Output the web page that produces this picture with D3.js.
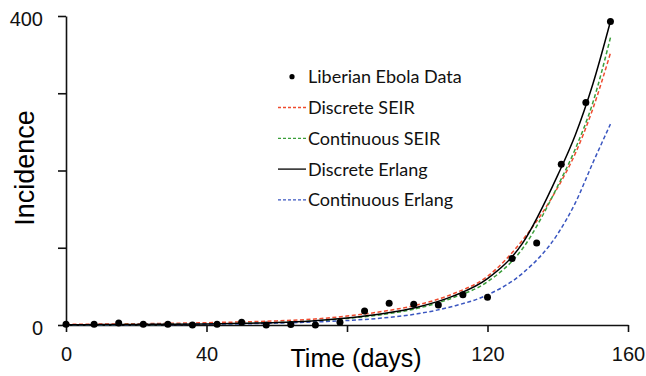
<!DOCTYPE html>
<html>
<head>
<meta charset="utf-8">
<script src="https://cdn.jsdelivr.net/npm/d3@7"></script>
<style>
  body { margin: 0; background: #fff; }
  svg { display: block; }
  .axis path, .axis line { stroke: #111; stroke-width: 1.6px; }
  .axis text { font-family: "Liberation Sans", Arial, sans-serif; font-size: 20px; fill: #111; }
</style>
</head>
<body>
<svg width="646" height="376"></svg>
<script>
// weekly liberian case counts (day, incidence)
var dataDays = [0, 8, 15, 22, 29, 36, 43, 50, 57, 64, 71, 78, 85, 92, 99, 106, 113, 120, 127, 134, 141, 148, 155];
var dataCases = [1, 1, 2.6, 1, 1, 0, 1, 3.5, 0, 0.5, 0, 3.5, 18, 28, 27, 26, 39, 36, 86, 106, 208, 288, 393];

var curveDays = [0, 10, 20, 30, 40, 50, 60, 70, 80, 90, 100, 110, 120, 130, 140, 145, 150, 155];
var discreteSEIR = [0.8, 1.2, 1.6, 2.2, 3, 4, 5.3, 7.5, 11.5, 17.5, 26, 40, 63, 110, 178, 222, 280, 352];
var continuousSEIR = [0.3, 0.4, 0.6, 0.9, 1.2, 2, 3, 5, 8.5, 13.5, 21.5, 35, 56, 99, 180, 228, 288, 372];
var discreteErlang = [0.3, 0.5, 0.7, 1, 1.4, 2.2, 3.2, 5.3, 9, 14.5, 23, 37, 60, 106, 194, 246, 312, 393];
var continuousErlang = [0.2, 0.3, 0.5, 0.7, 1, 1.5, 2.5, 3.8, 5.8, 9, 14.5, 24, 39, 67, 118, 158, 210, 260];

var xTicks = [0, 40, 80, 120, 160];
var yTicks = [0, 100, 200, 300, 400];

var legendNames = ["Liberian Ebola Data", "Discrete SEIR", "Continuous SEIR", "Discrete Erlang", "Continuous Erlang"];

var svg = d3.select("svg");

var x = d3.scaleLinear().domain([0, 160]).range([66, 628]);
var y = d3.scaleLinear().domain([0, 400]).range([325, 16]);

var series = [
    {name: "Discrete SEIR", values: discreteSEIR, color: "#ef4b2f", dash: "4,2.5"},
    {name: "Continuous SEIR", values: continuousSEIR, color: "#3a9e3a", dash: "4,2.5"},
    {name: "Continuous Erlang", values: continuousErlang, color: "#3a56c0", dash: "4,2.5"},
    {name: "Discrete Erlang", values: discreteErlang, color: "#000", dash: null}
];

var line = d3.line()
    .x(function(d) { return x(d[0]); })
    .y(function(d) { return y(d[1]); })
    .curve(d3.curveMonotoneX);

svg.append("g")
    .attr("class", "axis")
    .attr("transform", "translate(0,325)")
    .call(d3.axisBottom(x).tickValues(xTicks).tickSize(7).tickSizeOuter(0).tickPadding(15)
        .tickFormat(function(d) { return d === 80 ? "" : d; }));

svg.append("g")
    .attr("class", "axis")
    .attr("transform", "translate(66,0)")
    .call(d3.axisLeft(y).tickValues(yTicks).tickSize(8).tickSizeOuter(0).tickPadding(15)
        .tickFormat(function(d) { return (d === 0 || d === 400) ? d : ""; }))
    .selectAll("text").attr("dy", "0.45em");

svg.append("g")
    .selectAll("path")
    .data(series)
    .enter().append("path")
    .attr("fill", "none")
    .attr("stroke", function(d) { return d.color; })
    .attr("stroke-width", 1.5)
    .attr("stroke-dasharray", function(d) { return d.dash; })
    .attr("d", function(d) {
        return line(curveDays.map(function(t, i) { return [t, d.values[i]]; }));
    });

svg.append("g")
    .selectAll("circle")
    .data(dataDays)
    .enter().append("circle")
    .attr("cx", function(d) { return x(d); })
    .attr("cy", function(d, i) { return y(dataCases[i]); })
    .attr("r", 3.5)
    .attr("fill", "#000");

// axis titles
svg.append("text")
    .attr("x", 356)
    .attr("y", 367)
    .attr("text-anchor", "middle")
    .style("font-family", "Liberation Sans, Arial, sans-serif")
    .style("font-size", "25px")
    .text("Time (days)");

svg.append("text")
    .attr("transform", "translate(34,168) rotate(-90)")
    .attr("text-anchor", "middle")
    .style("font-family", "Liberation Sans, Arial, sans-serif")
    .style("font-size", "27px")
    .text("Incidence");

// legend
var legendStyle = [
    {color: "#000", dash: null, dot: true},
    {color: "#ef4b2f", dash: "3,2"},
    {color: "#3a9e3a", dash: "3,2"},
    {color: "#000", dash: null},
    {color: "#3a56c0", dash: "3,2"}
];

var legend = svg.append("g")
    .selectAll("g")
    .data(legendNames)
    .enter().append("g")
    .attr("transform", function(d, i) { return "translate(0," + (76.7 + i * 30.8) + ")"; });

legend.each(function(d, i) {
    var g = d3.select(this);
    var st = legendStyle[i];
    if (st.dot) {
        g.append("circle").attr("cx", 292).attr("cy", 0).attr("r", 2.6).attr("fill", "#000");
    } else {
        g.append("line")
            .attr("x1", 278).attr("x2", 306)
            .attr("y1", 0).attr("y2", 0)
            .attr("stroke", st.color)
            .attr("stroke-width", 1.3)
            .attr("stroke-dasharray", st.dash);
    }
    g.append("text")
        .attr("x", 308)
        .attr("y", 6.5)
        .style("font-family", "Lato, Open Sans, sans-serif")
        .style("font-size", "18px")
        .style("fill", "#111")
        .text(d);
});
</script>
</body>
</html>
